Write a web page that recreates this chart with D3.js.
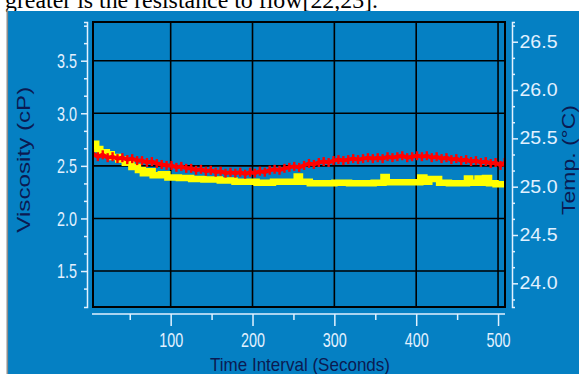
<!DOCTYPE html>
<html><head><meta charset="utf-8">
<script src="https://cdn.jsdelivr.net/npm/d3@7"></script>
<style>html,body{margin:0;padding:0;background:#fff;overflow:hidden}svg{display:block}</style>
</head><body>
<svg id="c" width="579" height="374"></svg>
<script>
// ---- data ----
const captionText = "greater is the resistance to flow[22,23].";
const xTitle = "Time Interval (Seconds)";
const yLeftTitle = "Viscosity (cP)";
const yRightTitle = "Temp. (°C)";

const timeTicks = [100, 200, 300, 400, 500];
const timeMinor = [50, 150, 250, 350, 450];
const viscTicks = [1.5, 2.0, 2.5, 3.0, 3.5];
const viscMinor = [1.333, 1.667, 1.833, 2.167, 2.333, 2.667, 2.833, 3.167, 3.333, 3.667, 3.833];
const tempTicks = [24.0, 24.5, 25.0, 25.5, 26.0, 26.5];
const tempMinor = [23.833, 24.167, 24.333, 24.667, 24.833, 25.167, 25.333, 25.667, 25.833, 26.167, 26.333, 26.667];

// viscosity series (yellow), stepped
const viscTime = [5, 9, 14, 22, 28, 36, 44, 52, 60, 66, 72, 78, 88, 96, 110, 125, 140, 160, 178, 205, 225, 254, 258, 270, 300, 318, 348, 360, 364, 405, 410, 416, 428, 440, 462, 466, 475, 479, 484, 489, 497, 508.5];
const viscValue = [2.71, 2.66, 2.63, 2.61, 2.585, 2.56, 2.53, 2.49, 2.46, 2.43, 2.45, 2.41, 2.42, 2.39, 2.385, 2.375, 2.37, 2.36, 2.35, 2.34, 2.35, 2.40, 2.35, 2.335, 2.34, 2.335, 2.34, 2.395, 2.345, 2.39, 2.35, 2.375, 2.34, 2.335, 2.38, 2.34, 2.38, 2.34, 2.385, 2.335, 2.325, 2.325];

// temperature series (red)
const tempTime = [5, 11, 17, 23, 29, 35, 41, 47, 53, 59, 65, 71, 77, 83, 89, 95, 101, 107, 113, 119, 125, 131, 137, 143, 149, 155, 161, 167, 173, 179, 185, 191, 197, 203, 209, 215, 221, 227, 233, 239, 245, 251, 257, 263, 269, 275, 281, 287, 293, 299, 305, 311, 317, 323, 329, 335, 341, 347, 353, 359, 365, 371, 377, 383, 389, 395, 401, 407, 413, 419, 425, 431, 437, 443, 449, 455, 461, 467, 473, 479, 485, 491, 497, 503, 508];
const tempValue = [25.34, 25.31, 25.33, 25.30, 25.31, 25.29, 25.30, 25.28, 25.29, 25.27, 25.27, 25.25, 25.26, 25.24, 25.23, 25.22, 25.22, 25.20, 25.21, 25.19, 25.19, 25.17, 25.18, 25.16, 25.17, 25.15, 25.16, 25.14, 25.15, 25.14, 25.15, 25.13, 25.15, 25.14, 25.16, 25.15, 25.17, 25.18, 25.17, 25.19, 25.20, 25.21, 25.20, 25.22, 25.24, 25.23, 25.25, 25.26, 25.25, 25.27, 25.28, 25.27, 25.28, 25.29, 25.28, 25.29, 25.30, 25.29, 25.30, 25.29, 25.31, 25.30, 25.31, 25.32, 25.30, 25.31, 25.32, 25.31, 25.32, 25.30, 25.31, 25.29, 25.30, 25.28, 25.29, 25.27, 25.28, 25.26, 25.27, 25.25, 25.26, 25.24, 25.25, 25.22, 25.25];

// ---- layout ----
const svg = d3.select("#c");
const BLUE = "#0580c3", AX = "#e2f1ff", NAVY = "#0b1a52";
const plot = {l: 93, r: 505, t: 22, b: 307};

svg.append("rect").attr("x", 0).attr("y", 0).attr("width", 579).attr("height", 374).attr("fill", "#fff");
svg.append("text").attr("x", 5).attr("y", 7.5).attr("font-family", "Liberation Serif").attr("font-size", 24)
  .attr("textLength", 373).attr("lengthAdjust", "spacingAndGlyphs").attr("fill", "#000").text(captionText);
svg.append("rect").attr("x", 8).attr("y", 11).attr("width", 571).attr("height", 363).attr("fill", BLUE);
svg.append("rect").attr("x", 6.5).attr("y", 10).attr("width", 1.6).attr("height", 364).attr("fill", "#8c8c8c");

const x = d3.scaleLinear().domain([5.1, 508.5]).range([plot.l, plot.r]);
const yV = d3.scaleLinear().domain([1.158, 3.868]).range([plot.b, plot.t]);
const yT = d3.scaleLinear().domain([23.755, 26.704]).range([plot.b, plot.t]);

// grid
const grid = svg.append("g").attr("stroke", "#000").attr("stroke-width", 1.6);
grid.selectAll("line.v").data(timeTicks).join("line")
  .attr("x1", d => x(d)).attr("x2", d => x(d)).attr("y1", plot.t).attr("y2", plot.b);
grid.selectAll("line.h").data(viscTicks).join("line").attr("class", "h")
  .attr("x1", plot.l).attr("x2", plot.r).attr("y1", d => yV(d)).attr("y2", d => yV(d));

// data
svg.append("clipPath").attr("id", "clip").append("rect")
  .attr("x", plot.l).attr("y", plot.t).attr("width", plot.r - plot.l).attr("height", plot.b - plot.t);
const dg = svg.append("g").attr("clip-path", "url(#clip)");
const viscData = viscTime.map((t, i) => ({t, v: viscValue[i]}));
const tempData = tempTime.map((t, i) => ({t, v: tempValue[i]}));
dg.append("path").datum(viscData)
  .attr("d", d3.line().x(d => x(d.t)).y(d => yV(d.v)).curve(d3.curveStepAfter))
  .attr("fill", "none").attr("stroke", "#ffff00").attr("stroke-width", 6.5).attr("stroke-linejoin", "miter");
dg.append("path").datum(tempData)
  .attr("d", d3.line().x(d => x(d.t)).y(d => yT(d.v)))
  .attr("fill", "none").attr("stroke", "#ff0000").attr("stroke-width", 4);
dg.selectAll("rect.m").data(tempData).join("rect").attr("class", "m")
  .attr("x", d => x(d.t) - 1.2).attr("y", d => yT(d.v) - 4.5).attr("width", 2.4).attr("height", 9).attr("fill", "#ff0000");

// plot border
svg.append("rect").attr("x", plot.l).attr("y", plot.t).attr("width", plot.r - plot.l).attr("height", plot.b - plot.t)
  .attr("fill", "none").attr("stroke", "#000").attr("stroke-width", 2);

function styleAxis(g, fs, charW, dotW) {
  g.selectAll("path,line").attr("stroke", AX).attr("stroke-width", 1.5);
  g.selectAll("text").attr("fill", AX).attr("font-family", "Liberation Sans").attr("font-size", fs)
    .attr("lengthAdjust", "spacingAndGlyphs")
    .attr("textLength", function () { const s = this.textContent; let w = 0; for (const c of s) w += (c === "." ? dotW : charW); return w; });
}

// left axis
const gl = svg.append("g").attr("transform", "translate(87,0)")
  .call(d3.axisLeft(yV).tickValues(viscTicks).tickSizeInner(6).tickSizeOuter(3).tickPadding(4).tickFormat(d3.format(".1f")));
styleAxis(gl, 21, 8, 4);
const glm = svg.append("g").attr("transform", "translate(87,0)")
  .call(d3.axisLeft(yV).tickValues(viscMinor).tickSize(3).tickFormat(""));
glm.select(".domain").remove(); styleAxis(glm, 10, 0, 0);

// right axis
const gr = svg.append("g").attr("transform", "translate(512,0)")
  .call(d3.axisRight(yT).tickValues(tempTicks).tickSizeInner(6).tickSizeOuter(3).tickPadding(1.5).tickFormat(d3.format(".1f")));
styleAxis(gr, 17.5, 11, 5);
const grm = svg.append("g").attr("transform", "translate(512,0)")
  .call(d3.axisRight(yT).tickValues(tempMinor).tickSize(3).tickFormat(""));
grm.select(".domain").remove(); styleAxis(grm, 10, 0, 0);

// bottom axis
const xb = d3.scaleLinear().domain(x.domain()).range(x.range());
const gb = svg.append("g").attr("transform", "translate(0,314)")
  .call(d3.axisBottom(xb).tickValues(timeTicks).tickSizeInner(12).tickSizeOuter(0).tickPadding(6));
styleAxis(gb, 21, 8, 4);
gb.select(".domain").attr("d", `M${plot.l - 1},0H${plot.r}`);
const gbm = svg.append("g").attr("transform", "translate(0,314)")
  .call(d3.axisBottom(xb).tickValues(timeMinor).tickSize(6).tickFormat(""));
gbm.select(".domain").remove(); styleAxis(gbm, 10, 0, 0);

// titles
svg.append("text").attr("transform", "translate(29.5,159.7) rotate(-90)").attr("text-anchor", "middle")
  .attr("font-family", "Liberation Sans").attr("font-size", 18.5).attr("fill", NAVY)
  .attr("textLength", 146).attr("lengthAdjust", "spacingAndGlyphs").text(yLeftTitle);
svg.append("text").attr("transform", "translate(575,160) rotate(-90)").attr("text-anchor", "middle")
  .attr("font-family", "Liberation Sans").attr("font-size", 18.5).attr("fill", NAVY)
  .attr("textLength", 110).attr("lengthAdjust", "spacingAndGlyphs").text(yRightTitle);
svg.append("text").attr("x", 300).attr("y", 370.5).attr("text-anchor", "middle")
  .attr("font-family", "Liberation Sans").attr("font-size", 19).attr("fill", NAVY)
  .attr("textLength", 180).attr("lengthAdjust", "spacingAndGlyphs").text(xTitle);
</script>
</body></html>
